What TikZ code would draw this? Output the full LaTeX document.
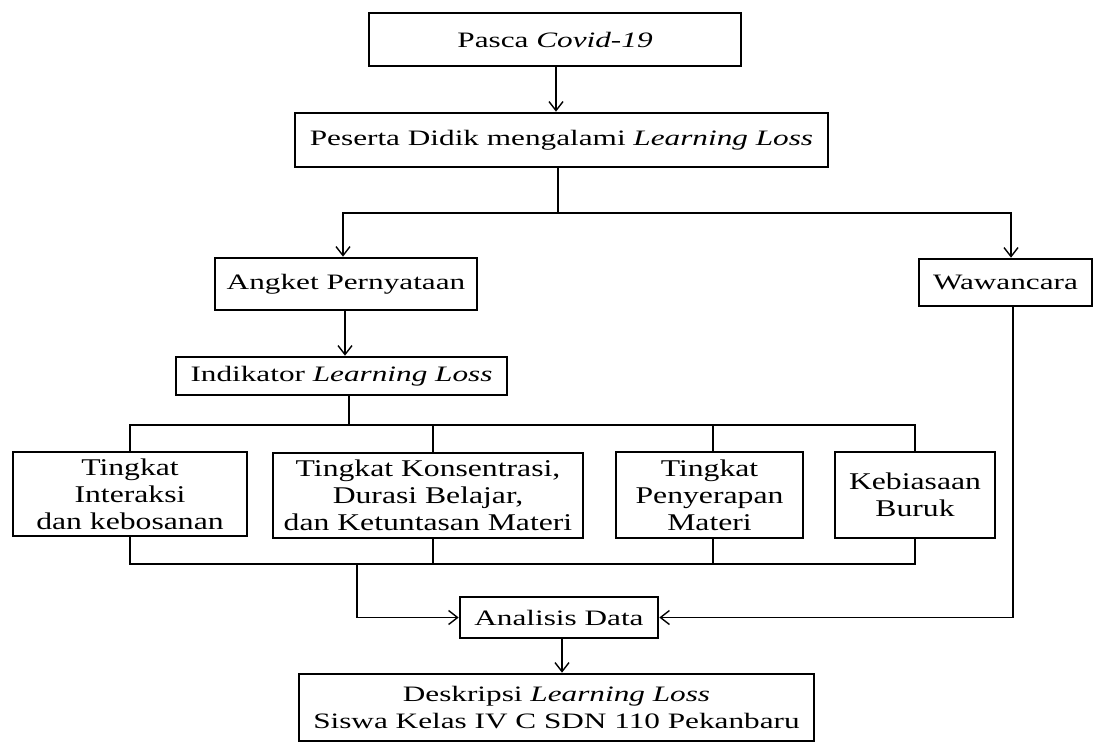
\documentclass[tikz,border=0pt]{standalone}
\usepackage{fontspec}
\setmainfont{Liberation Serif}[FakeStretch=1.42]
\newfontfamily\tierfont{Liberation Serif}[FakeStretch=1.32]
\usetikzlibrary{arrows.meta,calc}
\begin{document}
\begin{tikzpicture}[x=1pt,y=-1pt,
  box/.style={draw, line width=2.6pt, inner sep=0pt, align=center, font=\fontsize{22}{27}\selectfont},
  tierbox/.style={box, font=\tierfont\fontsize{24}{27}\selectfont},
  conn/.style={line width=1.4pt},
  arr/.style={conn, -{Straight Barb[length=9pt,width=14pt,line width=1.4pt]}}]
\useasboundingbox (0,0) rectangle (1099,744);

\node[box, minimum width=372pt, minimum height=53pt] (b1) at (555,39.5) {Pasca \textit{Covid-19}};
\node[box, minimum width=533pt, minimum height=54pt] (b2) at (561.5,140) {Peserta Didik mengalami \textit{Learning Loss}};
\node[box, minimum width=262pt, minimum height=52pt] (angket) at (346,284) {Angket Pernyataan};
\node[box, minimum width=173pt, minimum height=47pt] (waw) at (1005.5,282.5) {Wawancara};
\node[box, minimum width=331pt, minimum height=38pt] (indik) at (341.5,376) {Indikator \textit{Learning Loss}};
\node[tierbox, minimum width=234pt, minimum height=84pt] (A) at (130,494) {Tingkat\\Interaksi\\dan kebosanan};
\node[tierbox, minimum width=310pt, minimum height=85pt] (B) at (428,495.5) {Tingkat Konsentrasi,\\Durasi Belajar,\\dan Ketuntasan Materi};
\node[tierbox, minimum width=187pt, minimum height=86pt] (C) at (709.5,495) {Tingkat\\Penyerapan\\Materi};
\node[tierbox, minimum width=160pt, minimum height=86pt] (D) at (915,495) {Kebiasaan\\Buruk};
\node[box, minimum width=198pt, minimum height=41pt] (anal) at (559,617.5) {Analisis Data};
\node[box, minimum width=515pt, minimum height=67pt] (final) at (556.5,707.5) {Deskripsi \textit{Learning Loss}\\Siswa Kelas IV C SDN 110 Pekanbaru};

% top
\draw[arr] ([xshift=1pt]b1.south) -- ([xshift=1pt]b1.south |- b2.north);
\coordinate (j1) at (558,213);
\draw[conn] (b2.south -| j1) -- (j1);
\draw[arr] (j1) -| ([xshift=-3pt]angket.north);
\draw[arr] (j1) -| ([xshift=5.5pt]waw.north);
\draw[arr] ([xshift=-1pt]angket.south) -- ([xshift=-1pt]angket.south |- indik.north);

% indicator branches
\coordinate (j2) at (349,425);
\draw[conn] (indik.south -| j2) -- (j2);
\draw[conn] (j2) -| (A.north);
\draw[conn] (j2) -| ([xshift=5pt]B.north);
\draw[conn] (j2) -| ([xshift=3.5pt]C.north);
\draw[conn] (j2) -| (D.north);

% merge
\coordinate (j3) at (357,564);
\draw[conn] (A.south) |- (j3);
\draw[conn] (D.south) |- (j3);
\draw[conn] ([xshift=5pt]B.south) -- ([xshift=5pt]B.south |- j3);
\draw[conn] ([xshift=3.5pt]C.south) -- ([xshift=3.5pt]C.south |- j3);
\draw[arr] (j3) |- (anal.west);
\draw[arr] ([xshift=7.5pt]waw.south) |- (anal.east);
\draw[arr] ([xshift=3pt]anal.south) -- ([xshift=3pt]anal.south |- final.north);
\end{tikzpicture}
\end{document}
